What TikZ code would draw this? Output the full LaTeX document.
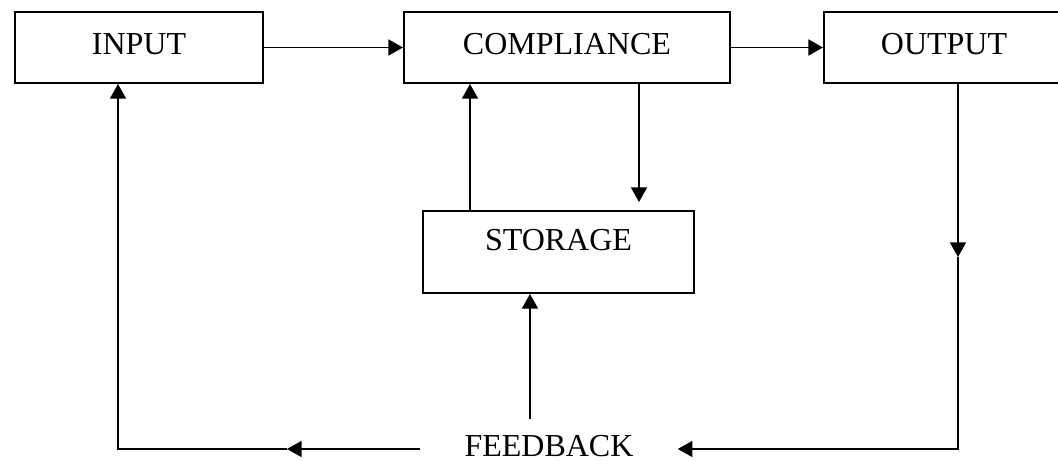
\documentclass[tikz,border=0pt]{standalone}
\usepackage{fontspec}
\setmainfont{Liberation Serif}
\usetikzlibrary{arrows.meta}

\begin{document}
\begin{tikzpicture}[x=0.75pt,y=-0.75pt,
                   box/.style={draw,line width=1.5pt,inner sep=0pt,anchor=north west,
                               text height=31.5pt,text depth=21.75pt,font=\fontsize{24}{28}\selectfont},
                   arr/.style={line width=1.4pt,-{Triangle[length=11pt,width=12pt]}}]
\useasboundingbox (0,0) rectangle (1058,461);
\node[box,minimum width=186pt] (inp) at (14,11) {INPUT};
\node[box,minimum width=244.5pt] (comp) at (403,11) {COMPLIANCE};
\node[box,minimum width=180pt] (outp) at (823,11) {OUTPUT};
\node[box,minimum width=203.25pt,text height=29.25pt,text depth=32.25pt] (stor) at (422,210) {STORAGE};
\node[inner sep=0pt,anchor=base,minimum width=192.75pt,text height=27.75pt,text depth=17.25pt,
      font=\fontsize{24}{28}\selectfont] (fb) at (549,456) {FEEDBACK};
\coordinate (lm) at (287,449);
\coordinate (lc) at (118,449);
\coordinate (rm) at (958,257);
\coordinate (rc) at (958,449);
\draw[arr] (inp) -- (comp);
\draw[arr] (comp) -- (outp);
\draw[arr] ([xshift=36pt]stor.north west) -- ([xshift=36pt]stor.north west |- comp.south);
\draw[arr,shorten >=6pt] ([xshift=54pt]comp.south) -- ([xshift=54pt]comp.south |- stor.north);
\draw[arr] ([xshift=-14.25pt]fb.north) -- ([xshift=-14.25pt]fb.north |- stor.south);
\draw[arr] (outp.south -| rm) -- (rm);
\draw[arr] (rm) -- (rc) -- (fb.east);
\draw[arr] (fb.west) -- (lm);
\draw[arr] (lm) -- (lc) -- (inp.south -| lc);
\end{tikzpicture}
\end{document}
